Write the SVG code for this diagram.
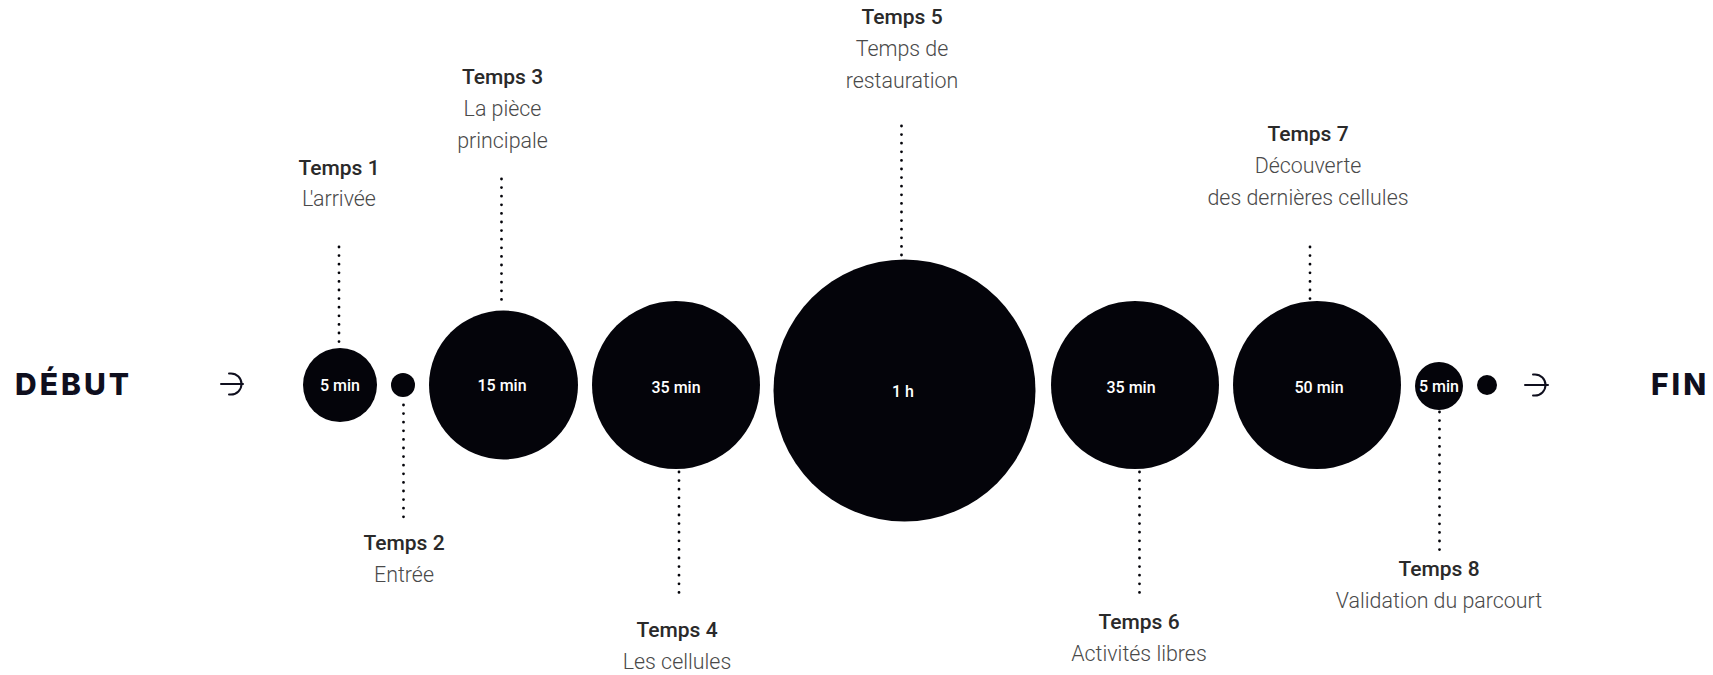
<svg xmlns="http://www.w3.org/2000/svg" width="1713" height="675" viewBox="0 0 1713 675">
<style>
.bg{fill:#ffffff}
.c{fill:#04040a}
.lbl{font-family:"Roboto Medium",Roboto,"Liberation Sans",sans-serif;font-weight:500;font-size:16px;fill:#ffffff;text-anchor:middle}
.t{font-family:"Roboto Medium",Roboto,"Liberation Sans",sans-serif;font-weight:500;font-size:21px;fill:#2a2a2a;text-anchor:middle}
.s{font-family:"Roboto Light",Roboto,"Liberation Sans",sans-serif;font-weight:300;font-size:21.4px;fill:#4a4a4a;text-anchor:middle}
.big{font-family:Inter,"Liberation Sans",sans-serif;font-weight:800;font-size:30px;fill:#0f0f1e;letter-spacing:3px}
.dot{stroke:#04040a;stroke-width:2.8;stroke-linecap:round;stroke-dasharray:0 8.6;fill:none}
.arr{stroke:#0f0f1e;stroke-width:2;fill:none;stroke-linecap:round}
</style>
<rect class="bg" x="0" y="0" width="1713" height="675"/>
<g id="debut">
<text class="big" x="15" y="395">DÉBUT</text>
<path class="arr" d="M221,384 H243 M229,373.5 H231 A10.5,10.5 0 0 1 231,394.5 H229"/>
</g>
<g id="fin">
<path class="arr" d="M1525,385 H1548 M1533,374.5 H1535 A10.5,10.5 0 0 1 1535,395.5 H1533"/>
<text class="big" x="1651" y="395">FIN</text>
</g>
<g id="connectors">
<line class="dot" x1="339" y1="247" x2="339" y2="342"/>
<line class="dot" x1="403.5" y1="405" x2="403.5" y2="520"/>
<line class="dot" x1="501.5" y1="179" x2="501.5" y2="306"/>
<line class="dot" x1="679" y1="472" x2="679" y2="599"/>
<line class="dot" x1="901.5" y1="126" x2="901.5" y2="260"/>
<line class="dot" x1="1139.5" y1="472" x2="1139.5" y2="599"/>
<line class="dot" x1="1310" y1="247" x2="1310" y2="300"/>
<line class="dot" x1="1439.5" y1="412" x2="1439.5" y2="552"/>
</g>
<g id="temps1">
<circle class="c" cx="340" cy="385" r="37"/>
<text class="lbl" x="340" y="391">5 min</text>
<text class="t" x="339" y="175">Temps 1</text>
<text class="s" x="339" y="206">L'arrivée</text>
</g>
<g id="temps2">
<circle class="c" cx="403" cy="385" r="12"/>
<text class="t" x="404" y="550">Temps 2</text>
<text class="s" x="404" y="582">Entrée</text>
</g>
<g id="temps3">
<circle class="c" cx="503.5" cy="385" r="74.5"/>
<text class="lbl" x="502" y="391">15 min</text>
<text class="t" x="502.5" y="84">Temps 3</text>
<text class="s" x="502.5" y="116">La pièce</text>
<text class="s" x="502.5" y="148">principale</text>
</g>
<g id="temps4">
<circle class="c" cx="676" cy="385" r="84"/>
<text class="lbl" x="676" y="393">35 min</text>
<text class="t" x="677" y="637">Temps 4</text>
<text class="s" x="677" y="669">Les cellules</text>
</g>
<g id="temps5">
<circle class="c" cx="904.5" cy="390.5" r="131"/>
<text class="lbl" x="903" y="397">1 h</text>
<text class="t" x="902" y="24">Temps 5</text>
<text class="s" x="902" y="56">Temps de</text>
<text class="s" x="902" y="88">restauration</text>
</g>
<g id="temps6">
<circle class="c" cx="1135" cy="385" r="84"/>
<text class="lbl" x="1131" y="393">35 min</text>
<text class="t" x="1139" y="629">Temps 6</text>
<text class="s" x="1139" y="661">Activités libres</text>
</g>
<g id="temps7">
<circle class="c" cx="1317" cy="385" r="84"/>
<text class="lbl" x="1319" y="393">50 min</text>
<text class="t" x="1308" y="141">Temps 7</text>
<text class="s" x="1308" y="173">Découverte</text>
<text class="s" x="1308" y="205">des dernières cellules</text>
</g>
<g id="temps8">
<circle class="c" cx="1439" cy="386" r="24"/>
<text class="lbl" x="1439" y="392">5 min</text>
<circle class="c" cx="1487" cy="385" r="10"/>
<text class="t" x="1439" y="576">Temps 8</text>
<text class="s" x="1439" y="608">Validation du parcourt</text>
</g>
</svg>
